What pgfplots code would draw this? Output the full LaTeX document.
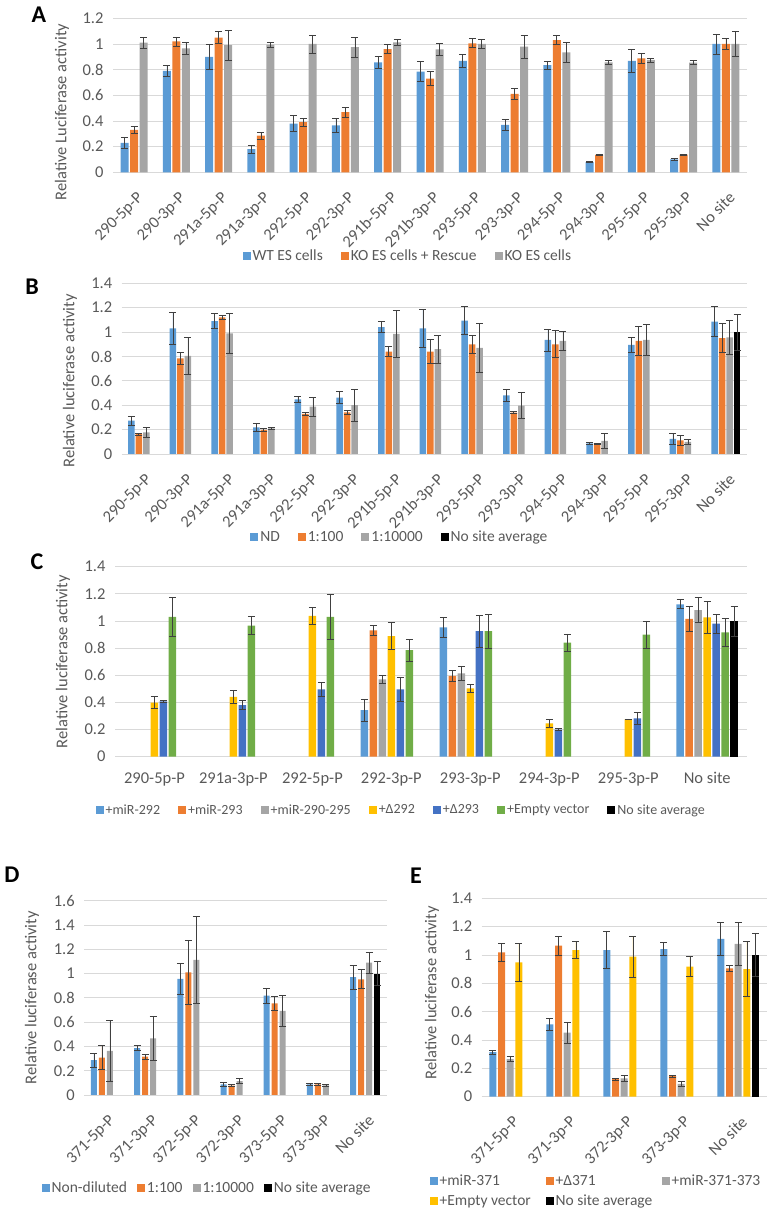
\documentclass[border=0pt]{standalone}
\usepackage{fontspec}
\setmainfont{Carlito}
\usepackage{pgfplots}
\pgfplotsset{compat=1.18}

\definecolor{cblue}{HTML}{5B9BD5}
\definecolor{corange}{HTML}{ED7D31}
\definecolor{cgray}{HTML}{A5A5A5}
\definecolor{cyellow}{HTML}{FFC000}
\definecolor{cdblue}{HTML}{4472C4}
\definecolor{cgreen}{HTML}{70AD47}
\definecolor{gridc}{HTML}{D9D9D9}
\definecolor{txt}{HTML}{595959}
\definecolor{errc}{HTML}{404040}

\pgfplotsset{
  xl/.style={
    scale only axis,
    enlargelimits=false,
    axis line style={draw=none},
    tick style={draw=none},
    ymajorgrids,
    grid style={draw=gridc, line width=0.8pt},
    ymin=0,
    /pgf/number format/assume math mode=true,
    tick label style={font=\fontsize{16.5}{19}\selectfont, text=txt},
    yticklabel style={xshift=-6pt},
    ylabel style={font=\fontsize{16.5}{19}\selectfont, text=txt, anchor=center},
    legend style={draw=none, fill=none, font=\fontsize{15.5}{18}\selectfont, text=txt,
      legend columns=-1, anchor=center,
      /tikz/every even column/.append style={column sep=16pt}},
    legend cell align=left,
    every axis plot/.append style={draw=none},
    error bars/y dir=both,
    error bars/y explicit,
    error bars/error bar style={draw=errc, line width=0.7pt},
    error bars/error mark options={draw=errc, line width=0.7pt, mark size=3.5pt, rotate=90},
  },
  sq/.style={legend image code/.code={\fill[##1, draw=none] (0pt,-4pt) rectangle (8pt,4pt);}},
  rot/.style={xticklabel style={xshift=2pt, yshift=-14pt, rotate=45, anchor=north east, inner sep=0pt}},
}

\begin{document}
\begin{tikzpicture}
\path[use as bounding box] (0,0) rectangle (770pt,1214pt);

% ---------------- A
\node[font=\fontsize{24}{28}\selectfont\bfseries] at (39pt,1199pt) {A};
\begin{axis}[xl, rot,
  at={(113pt,1041.7pt)}, anchor=south west,
  width=634pt, height=154pt,
  ybar=1.5pt, bar width=8pt, sq,
  xmin=-0.5, xmax=14.5, ymax=1.2,
  ytick={0,0.2,0.4,0.6,0.8,1,1.2},
  xtick={0,...,14},
  xticklabels={290-5p-P,290-3p-P,291a-5p-P,291a-3p-P,292-5p-P,292-3p-P,291b-5p-P,291b-3p-P,293-5p-P,293-3p-P,294-5p-P,294-3p-P,295-5p-P,295-3p-P,No site},
  ylabel={Relative Luciferase activity},
  ylabel style={at={(axis description cs:-0.0804,0.3916)}},
  legend style={at={(axis description cs:0.465,-0.5435)}},
]
\addplot[fill=cblue] coordinates {
 (0,0.23)+-(0,0.045) (1,0.79)+-(0,0.045) (2,0.90)+-(0,0.10) (3,0.18)+-(0,0.03)
 (4,0.38)+-(0,0.06) (5,0.365)+-(0,0.055) (6,0.857)+-(0,0.045) (7,0.785)+-(0,0.08)
 (8,0.868)+-(0,0.05) (9,0.37)+-(0,0.045) (10,0.835)+-(0,0.033) (11,0.08)+-(0,0.005)
 (12,0.868)+-(0,0.09) (13,0.10)+-(0,0.008) (14,1.0)+-(0,0.078)};
\addplot[fill=corange] coordinates {
 (0,0.33)+-(0,0.03) (1,1.02)+-(0,0.035) (2,1.05)+-(0,0.045) (3,0.286)+-(0,0.027)
 (4,0.39)+-(0,0.03) (5,0.468)+-(0,0.04) (6,0.96)+-(0,0.035) (7,0.73)+-(0,0.055)
 (8,1.005)+-(0,0.035) (9,0.61)+-(0,0.045) (10,1.03)+-(0,0.035) (11,0.135)+-(0,0.003)
 (12,0.888)+-(0,0.04) (13,0.138)+-(0,0.003) (14,1.0)+-(0,0.04)};
\addplot[fill=cgray] coordinates {
 (0,1.01)+-(0,0.045) (1,0.966)+-(0,0.05) (2,0.99)+-(0,0.117) (3,0.995)+-(0,0.02)
 (4,1.0)+-(0,0.07) (5,0.975)+-(0,0.077) (6,1.013)+-(0,0.025) (7,0.958)+-(0,0.045)
 (8,1.0)+-(0,0.035) (9,0.98)+-(0,0.09) (10,0.935)+-(0,0.08) (11,0.857)+-(0,0.015)
 (12,0.875)+-(0,0.015) (13,0.855)+-(0,0.015) (14,1.0)+-(0,0.095)};
\legend{WT ES cells, KO ES cells + Rescue, KO ES cells}
\end{axis}

% ---------------- B
\node[font=\fontsize{24}{28}\selectfont\bfseries] at (32pt,927pt) {B};
\begin{axis}[xl, rot,
  at={(121.7pt,760pt)}, anchor=south west,
  width=625pt, height=170.7pt,
  ybar=1pt, bar width=6.5pt, sq,
  xmin=-0.5, xmax=14.5, ymax=1.4,
  ytick={0,0.2,0.4,0.6,0.8,1,1.2,1.4},
  xtick={0,...,14},
  xticklabels={290-5p-P,290-3p-P,291a-5p-P,291a-3p-P,292-5p-P,292-3p-P,291b-5p-P,291b-3p-P,293-5p-P,293-3p-P,294-5p-P,294-3p-P,295-5p-P,295-3p-P,No site},
  ylabel={Relative luciferase activity},
  ylabel style={at={(axis description cs:-0.0827,0.4277)}},
  legend style={at={(axis description cs:0.445,-0.486)}},
]
\addplot[fill=cblue] coordinates {
 (0,0.273)+-(0,0.037) (1,1.03)+-(0,0.128) (2,1.09)+-(0,0.06) (3,0.219)+-(0,0.03)
 (4,0.448)+-(0,0.025) (5,0.462)+-(0,0.05) (6,1.04)+-(0,0.045) (7,1.03)+-(0,0.153)
 (8,1.094)+-(0,0.113) (9,0.48)+-(0,0.048) (10,0.935)+-(0,0.09) (11,0.0875)+-(0,0.008)
 (12,0.894)+-(0,0.06) (13,0.123)+-(0,0.044) (14,1.085)+-(0,0.123)};
\addplot[fill=corange] coordinates {
 (0,0.164)+-(0,0.008) (1,0.785)+-(0,0.05) (2,1.12)+-(0,0.015) (3,0.197)+-(0,0.01)
 (4,0.328)+-(0,0.01) (5,0.342)+-(0,0.015) (6,0.84)+-(0,0.04) (7,0.84)+-(0,0.1)
 (8,0.90)+-(0,0.074) (9,0.34)+-(0,0.01) (10,0.90)+-(0,0.11) (11,0.082)+-(0,0.005)
 (12,0.927)+-(0,0.12) (13,0.112)+-(0,0.038) (14,0.95)+-(0,0.12)};
\addplot[fill=cgray] coordinates {
 (0,0.178)+-(0,0.04) (1,0.804)+-(0,0.15) (2,0.99)+-(0,0.165) (3,0.21)+-(0,0.005)
 (4,0.388)+-(0,0.08) (5,0.40)+-(0,0.13) (6,0.985)+-(0,0.19) (7,0.86)+-(0,0.115)
 (8,0.87)+-(0,0.2) (9,0.397)+-(0,0.105) (10,0.927)+-(0,0.078) (11,0.107)+-(0,0.06)
 (12,0.935)+-(0,0.125) (13,0.10)+-(0,0.02) (14,0.957)+-(0,0.143)};
\addplot[fill=black] coordinates {(14,1.0)+-(0,0.148)};
\legend{ND, 1:100, 1:10000, No site average}
\end{axis}

% ---------------- C
\node[font=\fontsize{24}{28}\selectfont\bfseries] at (37pt,652pt) {C};
\begin{axis}[xl,
  at={(115pt,457.3pt)}, anchor=south west,
  width=631.7pt, height=190pt,
  ybar=1.5pt, bar width=7.5pt, sq,
  xmin=-0.5, xmax=7.5, ymax=1.4,
  ytick={0,0.2,0.4,0.6,0.8,1,1.2,1.4},
  xtick={0,...,7},
  xticklabels={290-5p-P,291a-3p-P,292-5p-P,292-3p-P,293-3p-P,294-3p-P,295-3p-P,No site},
  xticklabel style={yshift=-8pt},
  ylabel={Relative luciferase activity},
  ylabel style={at={(axis description cs:-0.0823,0.5)}},
  legend style={at={(axis description cs:0.453,-0.2805)}, font=\fontsize{14}{17}\selectfont},
]
\addplot[fill=cblue] coordinates {(3,0.344)+-(0,0.08) (4,0.953)+-(0,0.074) (7,1.123)+-(0,0.033)};
\addplot[fill=corange] coordinates {(3,0.93)+-(0,0.035) (4,0.595)+-(0,0.038) (7,1.015)+-(0,0.093)};
\addplot[fill=cgray] coordinates {(3,0.57)+-(0,0.033) (4,0.614)+-(0,0.055) (7,1.08)+-(0,0.092)};
\addplot[fill=cyellow] coordinates {
 (0,0.398)+-(0,0.043) (1,0.44)+-(0,0.047) (2,1.037)+-(0,0.06) (3,0.889)+-(0,0.1)
 (4,0.504)+-(0,0.032) (5,0.246)+-(0,0.03) (6,0.275)+-(0,0.003) (7,1.027)+-(0,0.115)};
\addplot[fill=cdblue] coordinates {
 (0,0.408)+-(0,0.005) (1,0.38)+-(0,0.032) (2,0.496)+-(0,0.05) (3,0.496)+-(0,0.09)
 (4,0.926)+-(0,0.117) (5,0.2)+-(0,0.009) (6,0.283)+-(0,0.042) (7,0.98)+-(0,0.07)};
\addplot[fill=cgreen] coordinates {
 (0,1.03)+-(0,0.143) (1,0.966)+-(0,0.068) (2,1.03)+-(0,0.165) (3,0.786)+-(0,0.08)
 (4,0.926)+-(0,0.125) (5,0.84)+-(0,0.065) (6,0.90)+-(0,0.1) (7,0.916)+-(0,0.102)};
\addplot[fill=black] coordinates {(7,1.0)+-(0,0.11)};
\legend{+miR-292, +miR-293, +miR-290-295, +Δ292, +Δ293, +Empty vector, No site average}
\end{axis}

% ---------------- D
\node[font=\fontsize{24}{28}\selectfont\bfseries] at (12pt,339pt) {D};
\begin{axis}[xl, rot,
  at={(84.3pt,119pt)}, anchor=south west,
  width=302.4pt, height=194.3pt,
  ybar=2pt, bar width=6pt, sq,
  xmin=-0.5, xmax=6.5, ymax=1.6,
  ytick={0,0.2,0.4,0.6,0.8,1,1.2,1.4,1.6},
  xtick={0,...,6},
  xticklabels={371-5p-P,371-3p-P,372-5p-P,372-3p-P,373-5p-P,373-3p-P,No site},
  ylabel={Relative luciferase activity},
  ylabel style={at={(axis description cs:-0.173,0.5)}},
  legend style={at={(axis description cs:0.406,-0.479)},
    /tikz/every even column/.append style={column sep=8pt}},
]
\addplot[fill=cblue] coordinates {
 (0,0.288)+-(0,0.058) (1,0.385)+-(0,0.02) (2,0.956)+-(0,0.128) (3,0.088)+-(0,0.014)
 (4,0.819)+-(0,0.062) (5,0.088)+-(0,0.01) (6,0.97)+-(0,0.096)};
\addplot[fill=corange] coordinates {
 (0,0.308)+-(0,0.1) (1,0.316)+-(0,0.02) (2,1.01)+-(0,0.26) (3,0.077)+-(0,0.007)
 (4,0.755)+-(0,0.055) (5,0.088)+-(0,0.01) (6,0.953)+-(0,0.078)};
\addplot[fill=cgray] coordinates {
 (0,0.363)+-(0,0.25) (1,0.467)+-(0,0.18) (2,1.113)+-(0,0.36) (3,0.115)+-(0,0.018)
 (4,0.692)+-(0,0.128) (5,0.08)+-(0,0.008) (6,1.09)+-(0,0.087)};
\addplot[fill=black] coordinates {(6,1.0)+-(0,0.1)};
\legend{Non-diluted, 1:100, 1:10000, No site average}
\end{axis}

% ---------------- E
\node[font=\fontsize{24}{28}\selectfont\bfseries] at (416pt,338pt) {E};
\begin{axis}[xl, rot,
  at={(481.7pt,117.3pt)}, anchor=south west,
  width=285pt, height=198.4pt,
  ybar=1.7pt, bar width=7pt, sq,
  xmin=-0.5, xmax=4.5, ymax=1.4,
  ytick={0,0.2,0.4,0.6,0.8,1,1.2,1.4},
  xtick={0,...,4},
  xticklabels={371-5p-P,371-3p-P,372-3p-P,373-3p-P,No site},
  ylabel={Relative luciferase activity},
  ylabel style={at={(axis description cs:-0.1744,0.523)}},
  legend columns=3,
  legend style={at={(axis description cs:0.401,-0.475)},
    /tikz/every even column/.append style={column sep=4pt}, row sep=4pt},
]
\addplot[fill=cblue] coordinates {
 (0,0.315)+-(0,0.013) (1,0.51)+-(0,0.043) (2,1.035)+-(0,0.13) (3,1.042)+-(0,0.044) (4,1.113)+-(0,0.116)};
\addplot[fill=corange] coordinates {
 (0,1.019)+-(0,0.062) (1,1.066)+-(0,0.067) (2,0.125)+-(0,0.008) (3,0.146)+-(0,0.006) (4,0.906)+-(0,0.018)};
\addplot[fill=cgray] coordinates {
 (0,0.266)+-(0,0.019) (1,0.452)+-(0,0.073) (2,0.13)+-(0,0.02) (3,0.09)+-(0,0.018) (4,1.078)+-(0,0.154)};
\addplot[fill=cyellow] coordinates {
 (0,0.948)+-(0,0.135) (1,1.035)+-(0,0.058) (2,0.988)+-(0,0.146) (3,0.918)+-(0,0.07) (4,0.90)+-(0,0.194)};
\addplot[fill=black] coordinates {(4,1.0)+-(0,0.153)};
\legend{\makebox[100pt][l]{+miR-371}, \makebox[100pt][l]{+Δ371}, +miR-371-373, \makebox[100pt][l]{+Empty vector}, No site average}
\end{axis}
\end{tikzpicture}
\end{document}
